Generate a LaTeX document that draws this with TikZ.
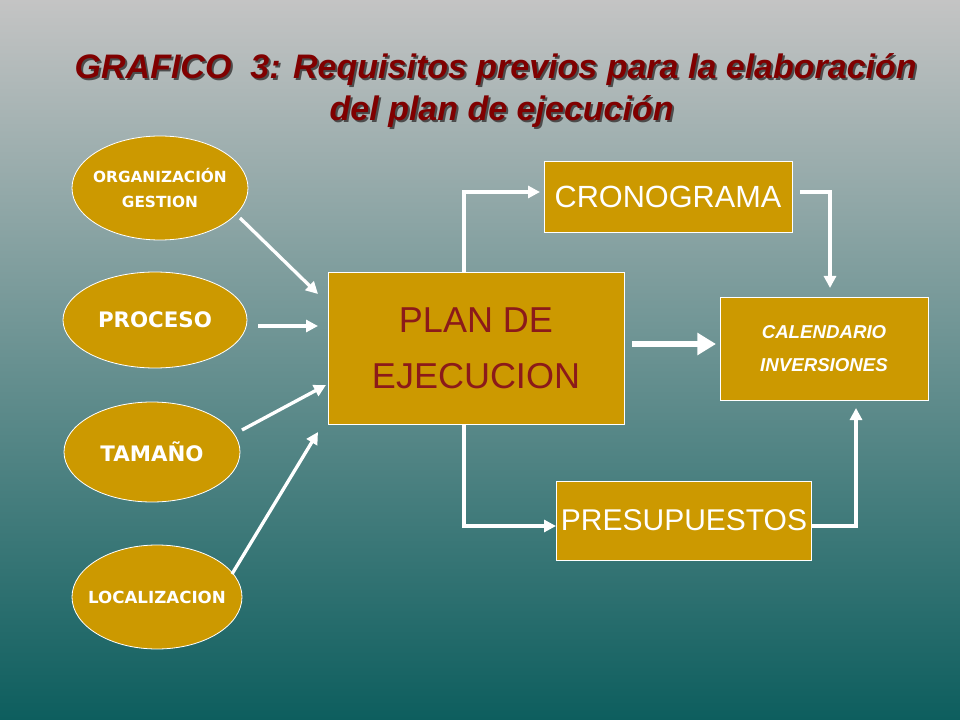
\documentclass[tikz,border=0pt]{standalone}
\usepackage{fontspec}
\setmainfont{Liberation Sans}
\newfontfamily\ovfont{DejaVu Sans}
\usetikzlibrary{shapes.geometric,arrows.meta}
\definecolor{gold}{HTML}{CC9900}
\definecolor{ttl}{HTML}{800000}
\definecolor{bgtop}{HTML}{C4C4C4}
\definecolor{bgbot}{HTML}{0D5E5E}
\definecolor{plantxt}{HTML}{8B1A1A}
\begin{document}
\begin{tikzpicture}[x=0.75pt,y=-0.75pt,
  oval/.style={ellipse,fill=gold,draw=white,line width=0.6pt,inner sep=0pt},
  ovtxt/.style={text=white,align=center,inner sep=0pt},
  gbox/.style={rectangle,fill=gold,draw=white,line width=0.6pt,text=white},
  conn/.style={white,line width=2.5pt,-{Triangle[length=9pt,width=9pt]}},
  tt/.style={font=\bfseries\itshape\fontsize{25.5}{30}\selectfont}]
\useasboundingbox (0,0) rectangle (960,720);
\shade[top color=bgtop,bottom color=bgbot] (0,0) rectangle (960,720);
% title
\node[tt,text=black!70,anchor=west] at (72,72) {GRAFICO\ \ 3: Requisitos previos para la elaboración};
\node[tt,text=ttl,anchor=west] (t1) at (70,70) {GRAFICO\ \ 3: Requisitos previos para la elaboración};
\node[tt,text=black!70,anchor=west] at (327,114) {del plan de ejecución};
\node[tt,text=ttl,anchor=west] (t2) at (325,112) {del plan de ejecución};
% ovals
\node[oval,minimum width=176*0.75pt,minimum height=104*0.75pt] (org) at (160,188) {};
\node[ovtxt,font=\ovfont\bfseries\fontsize{11.5}{19}\selectfont] (orgt) at (org) {ORGANIZACIÓN\\GESTION};
\node[oval,minimum width=184*0.75pt,minimum height=96*0.75pt] (pro) at (155,320) {};
\node[ovtxt,font=\ovfont\bfseries\fontsize{16}{18}\selectfont] (prot) at (pro) {PROCESO};
\node[oval,minimum width=176*0.75pt,minimum height=100*0.75pt] (tam) at (152,452) {};
\node[ovtxt,font=\ovfont\bfseries\fontsize{16}{18}\selectfont] (tamt) at (tam) {TAMAÑO};
\node[oval,minimum width=170*0.75pt,minimum height=104*0.75pt] (loc) at (157,597) {};
\node[ovtxt,font=\ovfont\bfseries\fontsize{12.5}{14}\selectfont] (loct) at (loc) {LOCALIZACION};
% boxes
\node[gbox,minimum width=296*0.75pt,minimum height=152*0.75pt,text=plantxt,align=center,font=\fontsize{27}{42}\selectfont] (plan) at (476,348) {PLAN DE\\EJECUCION};
\node[gbox,minimum width=248*0.75pt,minimum height=71*0.75pt,font=\fontsize{23}{26}\selectfont] (cro) at (668,196.5) {CRONOGRAMA};
\node[gbox,minimum width=208*0.75pt,minimum height=103*0.75pt,align=center,font=\bfseries\itshape\fontsize{14}{25}\selectfont] (cal) at (824,348.5) {CALENDARIO\\INVERSIONES};
\node[gbox,minimum width=248*0.75pt,minimum height=79*0.75pt,font=\fontsize{22.5}{26}\selectfont] (pre) at (684,520.5) {PRESUPUESTOS};
% connector end coordinates
\coordinate (a1s) at (240,218); \coordinate (a1e) at (318,294);
\coordinate (a2s) at (258,326); \coordinate (a2e) at (318,326);
\coordinate (a3s) at (242,430); \coordinate (a3e) at (326,385);
\coordinate (a4s) at (232,574); \coordinate (a4e) at (318,432);
\draw[conn] (a1s) -- (a1e);
\draw[conn] (a2s) -- (a2e);
\draw[conn] (a3s) -- (a3e);
\draw[conn] (a4s) -- (a4e);
\coordinate (ps) at (632,344); \coordinate (pe) at (716,344);
\draw[white,line width=5pt,-{Triangle[length=14pt,width=16pt]}] (ps) -- (pe);
\draw[conn] (464,272) |- (540,192);
\draw[conn] (464,424) |- (556,526);
\draw[conn] (800,192) -| (830,288);
\draw[conn] (812,526) -| (856,408);
\end{tikzpicture}
\end{document}
